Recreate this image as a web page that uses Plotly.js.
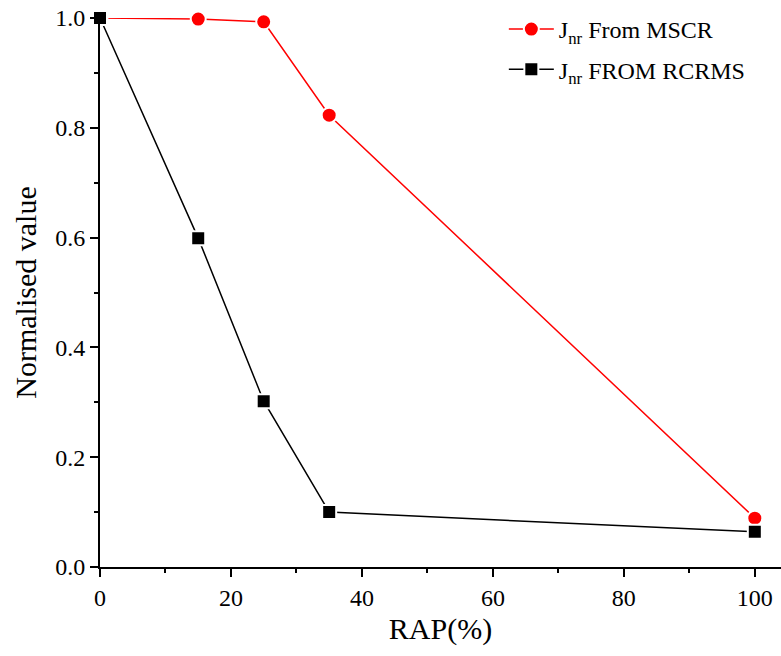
<!DOCTYPE html>
<html>
<head>
<meta charset="utf-8">
<script src="https://cdn.plot.ly/plotly-3.0.1.min.js"></script>
<style>html,body{margin:0;padding:0;background:#fff;}#chart{width:781px;height:656px;}</style>
</head>
<body>
<div id="chart"></div>
<script>
// RAP content (%) and normalised Jnr values from the two test methods
const rap = [0, 15, 25, 35, 100];
const jnrMscr = [1.0, 0.998, 0.993, 0.823, 0.089];
const jnrRcrms = [1.0, 0.599, 0.302, 0.100, 0.064];
const seriesNames = ['J<sub>nr</sub> From MSCR', 'J<sub>nr</sub> FROM RCRMS'];

const font = "'Liberation Serif', 'Times New Roman', Times, serif";

const traces = [
  {
    x: rap, y: jnrMscr, name: seriesNames[0], legendgroup: 'mscr', type: 'scatter', mode: 'lines+markers',
    line: {color: '#ff0000', width: 1.5},
    marker: {symbol: 'circle', size: 15, color: '#ff0000', line: {color: '#ffffff', width: 2}},
    cliponaxis: false
  },
  {
    x: rap, y: jnrRcrms, name: seriesNames[1], legendgroup: 'rcrms', type: 'scatter', mode: 'lines+markers',
    line: {color: '#000000', width: 1.5},
    marker: {symbol: 'square', size: 14, color: '#000000', line: {color: '#ffffff', width: 2}},
    cliponaxis: false
  }
];

const axisCommon = {
  showgrid: false, zeroline: false, showline: true, linecolor: '#000', linewidth: 2,
  ticks: 'outside', ticklen: 8, tickwidth: 2, tickcolor: '#000',
  tickfont: {family: font, size: 24, color: '#000'},
  minor: {ticks: 'outside', ticklen: 4, tickwidth: 2, tickcolor: '#000', showgrid: false}
};

const layout = {
  width: 781, height: 656,
  margin: {l: 100, r: 0, t: 18, b: 89},
  paper_bgcolor: '#fff', plot_bgcolor: '#fff',
  showlegend: true,
  legend: {
    x: 0.593, y: 1.02, xanchor: 'left', yanchor: 'top',
    font: {family: font, size: 24, color: '#000'},
    bgcolor: 'rgba(0,0,0,0)', traceorder: 'grouped', tracegroupgap: 6, itemwidth: 45
  },
  xaxis: Object.assign({}, axisCommon, {
    range: [0, 104], tick0: 0, dtick: 20, minor: Object.assign({}, axisCommon.minor, {dtick: 10}),
    title: {text: 'RAP(%)', font: {family: font, size: 30, color: '#000'}, standoff: 8}
  }),
  yaxis: Object.assign({}, axisCommon, {
    range: [0, 1.0], tick0: 0, dtick: 0.2, tickformat: '.1f',
    minor: Object.assign({}, axisCommon.minor, {dtick: 0.1}),
    title: {text: 'Normalised value', font: {family: font, size: 30, color: '#000'}, standoff: 10}
  })
};

Plotly.newPlot('chart', traces, layout, {displayModeBar: false, staticPlot: true});
</script>
</body>
</html>
